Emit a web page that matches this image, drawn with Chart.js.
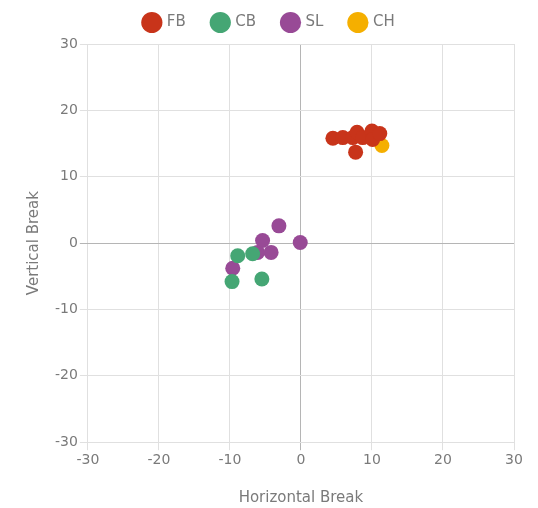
<!DOCTYPE html>
<html>
<head>
<meta charset="utf-8">
<script src="https://cdn.jsdelivr.net/npm/chart.js@4"></script>
<style>
  html, body { margin: 0; padding: 0; background: #fff; }
  #wrap { width: 538px; height: 508px; }
</style>
</head>
<body>
<div id="wrap"><canvas id="pitch_chart"></canvas></div>
<script>
// pitch types and movement (horizontal, vertical break)
var tipos = ["FB", "CB", "SL", "CH"];
var cores = ["#C8341A", "#45A674", "#984A96", "#F5AF00"];

var fbX = [4.5, 5.9, 7.3, 7.9, 7.7, 8.7, 10.0, 10.1, 11.1];
var fbY = [15.8, 15.9, 15.9, 16.7, 13.7, 15.9, 16.9, 15.6, 16.5];

var cbX = [-8.9, -6.8, -9.7, -5.5];
var cbY = [-1.9, -1.6, -5.8, -5.4];

var slX = [-3.1, -5.4, -6.1, -4.2, -0.1, -9.6];
var slY = [2.6, 0.4, -1.4, -1.4, 0.1, -3.8];

var chX = [11.4];
var chY = [14.7];

var ticks = [-30, -20, -10, 0, 10, 20, 30];

function pontos(xs, ys) {
  let valor = [];
  for (let i = 0; i < xs.length; i++) {
    valor.push({ x: xs[i], y: ys[i] });
  }
  return valor;
}

var series = [pontos(fbX, fbY), pontos(cbX, cbY), pontos(slX, slY), pontos(chX, chY)];

var datasets = [];
for (let i = 0; i < tipos.length; i++) {
  datasets.push({
    label: tipos[i],
    data: series[i],
    backgroundColor: cores[i],
    borderColor: cores[i],
    borderWidth: 0,
    pointRadius: 7.5,
    pointHoverRadius: 7.5,
    pointStyle: "circle",
  });
}

var fonte = "'DejaVu Sans', sans-serif";
var cinza = "#7a7a7a";

function gridCor(ctx) {
  return ctx.tick && ctx.tick.value === 0 ? "#b5b5b5" : "#e0e0e0";
}

// a bit more room between the legend and the plot
var legendaEspaco = {
  id: "legendaEspaco",
  beforeInit: function (chart) {
    const fitOriginal = chart.legend.fit;
    chart.legend.fit = function () {
      fitOriginal.bind(chart.legend)();
      this.height += 4;
    };
  },
};

var ctx = document.getElementById("pitch_chart").getContext("2d");
var myChart = new Chart(ctx, {
  type: "scatter",
  data: { datasets: datasets },
  plugins: [legendaEspaco],
  options: {
    responsive: true,
    maintainAspectRatio: false,
    animation: false,
    layout: { padding: { left: 25, right: 24, top: -12, bottom: 1 } },
    plugins: {
      tooltip: { enabled: false },
      legend: {
        position: "top",
        labels: {
          usePointStyle: true,
          boxHeight: 16,
          color: cinza,
          padding: 27,
          font: { family: fonte, size: 15 },
        },
      },
    },
    scales: {
      x: {
        type: "linear",
        min: -30,
        max: 30,
        afterBuildTicks: function (axis) {
          axis.ticks = ticks.map(function (v) { return { value: v }; });
        },
        grid: { color: gridCor, tickLength: 8, drawTicks: true },
        border: { display: false },
        ticks: { color: cinza, font: { family: fonte, size: 14 }, padding: 2 },
        title: {
          display: true,
          text: "Horizontal Break",
          color: cinza,
          font: { family: fonte, size: 15 },
          padding: { top: 18, bottom: 0 },
        },
      },
      y: {
        type: "linear",
        min: -30,
        max: 30,
        afterBuildTicks: function (axis) {
          axis.ticks = ticks.map(function (v) { return { value: v }; });
        },
        grid: { color: gridCor, tickLength: 8, drawTicks: true },
        border: { display: false },
        ticks: { color: cinza, font: { family: fonte, size: 14 }, padding: 2 },
        title: {
          display: true,
          text: "Vertical Break",
          color: cinza,
          font: { family: fonte, size: 15 },
          padding: { top: 0, bottom: 10 },
        },
      },
    },
  },
});
</script>
</body>
</html>
